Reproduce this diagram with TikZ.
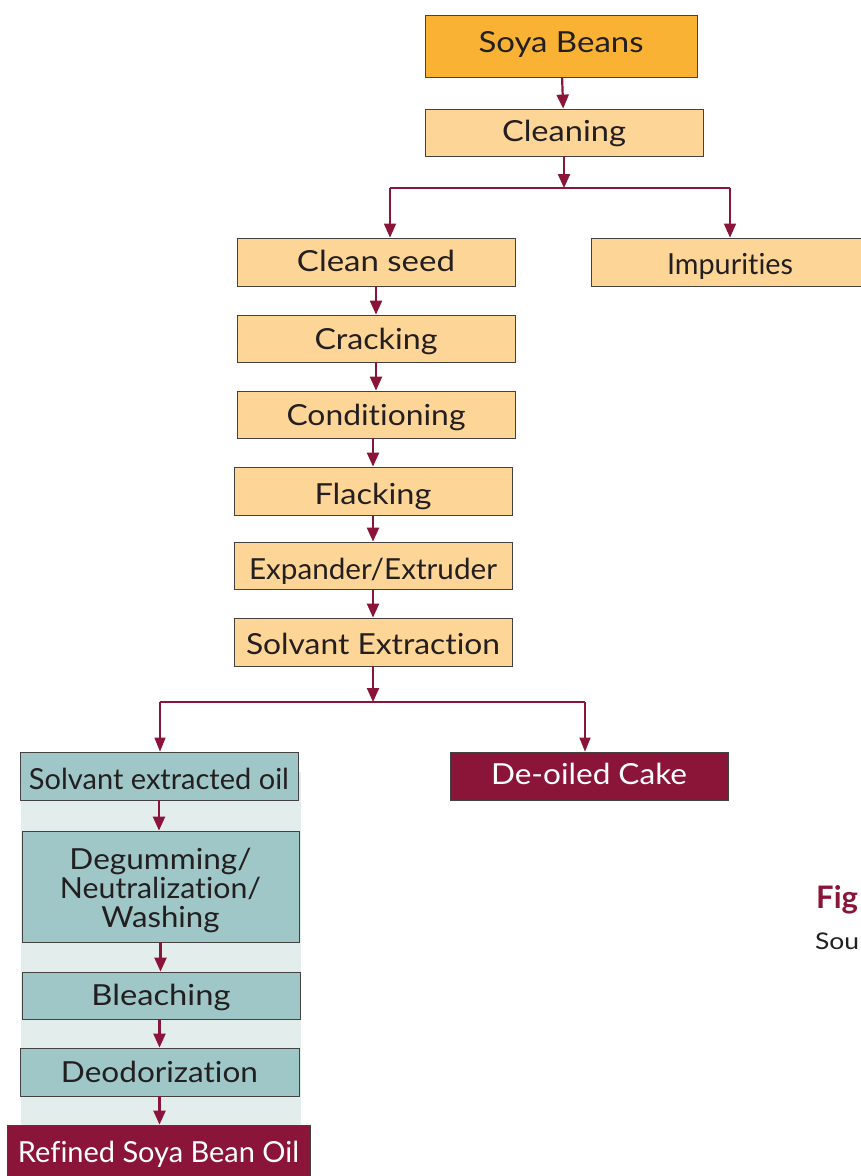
\documentclass[tikz,border=0pt]{standalone}
\usepackage{fontspec}
\setmainfont{Lato}[Ligatures={NoCommon}]
\usetikzlibrary{arrows.meta}
\definecolor{maroon}{HTML}{8B1538}
\definecolor{orangebox}{HTML}{F9B233}
\definecolor{peach}{HTML}{FDD597}
\definecolor{tealbox}{HTML}{9FC7C7}
\definecolor{panelbg}{HTML}{E3EDEC}
\definecolor{ink}{HTML}{231F20}
% set a label to a given width, keeping its height
\newcommand{\fitw}[2]{\resizebox{#1}{\height}{#2}}
\tikzset{
  % capoff: how far the middle of the capitals sits below the box centre
  capoff/.code={\pgfmathsetmacro\capdepth{9.2-2*#1}%
    \edef\capnext{\noexpand\tikzset{text height=30pt, text depth=\capdepth pt}}\capnext},
  box/.style={draw=ink!85, line width=0.8pt, minimum width=278pt, minimum height=47pt,
    inner sep=0pt, text=ink, capoff=0, font=\fontsize{29}{29}\selectfont},
  seedbox/.style={box, fill=peach},
  oilbox/.style={box, fill=tealbox},
  outbox/.style={box, fill=maroon, text=white},
  arr/.style={draw=maroon, line width=2.2pt, -{Triangle[length=14pt,width=12pt]}},
  thinarr/.style={draw=maroon, line width=1.4pt, -{Triangle[length=14pt,width=11pt]}},
  link/.style={draw=maroon, line width=1.5pt},
}
\begin{document}
\begin{tikzpicture}[x=1pt,y=-1pt]
\fill[white] (0,0) rectangle (861,1176);
\useasboundingbox (0,0) rectangle (861,1176);

% light panel behind the refining column
\fill[panelbg] (21,772) rectangle (301,1125);

% preparation line
\node[box, fill=orangebox, minimum width=272pt, minimum height=62pt, capoff=-3.5]
      (soya) at (561,46) {\fitw{165pt}{Soya Beans}};
\node[seedbox, capoff=-1] (clean) at (564,132.5) {\fitw{124pt}{Cleaning}};
\node[seedbox, minimum height=48pt, capoff=-0.5] (cseed) at (376,262) {\fitw{158pt}{Clean seed}};
\node[seedbox, minimum height=48pt, capoff=2] (impur) at (730,262) {\fitw{126pt}{Impurities}};
\node[seedbox, capoff=0.5] (crack) at (376,338.5) {\fitw{123pt}{Cracking}};
\node[seedbox, capoff=0.5] (cond) at (376,414.5) {\fitw{179pt}{Conditioning}};
\node[seedbox, minimum height=48pt, capoff=3] (flack) at (373,491) {\fitw{117pt}{Flacking}};
\node[seedbox, capoff=4] (expand) at (373,565.5) {\fitw{248pt}{Expander/Extruder}};
\node[seedbox, minimum height=48pt, capoff=2.5] (solvext) at (373,642) {\fitw{254pt}{Solvant Extraction}};

% products
\node[oilbox, minimum height=48pt, capoff=3] (soil) at (159,776) {\fitw{260pt}{Solvant extracted oil}};
\node[outbox, minimum height=48pt, capoff=-1.5] (cake) at (589,776) {\fitw{196pt}{De-oiled Cake}};

% refining column (three-line label, baseline on the last line)
\node[oilbox, minimum width=277pt, minimum height=111pt, align=center,
      text height=84pt, text depth=3pt] (degum) at (160.5,886.5)
      {\fitw{182pt}{Degumming/}\\\fitw{201pt}{Neutralization/}\\\fitw{118pt}{Washing}};
\node[oilbox] (bleach) at (161,995.5) {\fitw{139pt}{Bleaching}};
\node[oilbox, minimum width=279pt, minimum height=48pt] (deodor) at (159.5,1072) {\fitw{197pt}{Deodorization}};
\node[outbox, minimum width=303pt, minimum height=53pt, capoff=1] (refined) at (158.5,1151.5)
      {\fitw{281pt}{Refined Soya Bean Oil}};

% caption fragments at the right edge
\node[anchor=base west, inner sep=0pt, text=maroon,
      font=\fontsize{31}{31}\selectfont\bfseries] (fig) at (816,908) {Fig};
\node[anchor=base west, inner sep=0pt, text=ink,
      font=\fontsize{23}{24}\selectfont] (src) at (815,949) {\scalebox{1.15}[1]{Sou}};

% junction points
\coordinate (sL) at (390,188);
\coordinate (sR) at (730,188);
\coordinate (tL) at (160,702);
\coordinate (tR) at (585,702);

% connectors
\draw[arr] (soya) -- (clean);
\draw[arr] (clean.south) -- (clean.south |- sL);
\draw[link] (sL) -- (sR);
\draw[link, -{Triangle[length=14pt,width=12pt]}] (sL) -- (sL |- cseed.north);
\draw[link, -{Triangle[length=14pt,width=12pt]}] (sR) -- (sR |- impur.north);
\draw[arr] (cseed.south) -- (cseed.south |- crack.north);
\draw[arr] (crack.south) -- (crack.south |- cond.north);
\draw[arr] (cond.south -| flack.south) -- (flack.north);
\draw[arr] (flack.south) -- (expand.north);
\draw[arr] (expand.south) -- (solvext.north);
\draw[arr] (solvext.south) -- (solvext.south |- tL);
\draw[link, line width=1.2pt] (tL) -- (tR);
\draw[thinarr] (tL) -- (tL |- soil.north);
\draw[thinarr] (tR) -- (tR |- cake.north);
\draw[arr] (soil.south) -- (soil.south |- degum.north);
\draw[arr] (degum.south) -- (degum.south |- bleach.north);
\draw[arr] (bleach.south -| deodor.south) -- (deodor.north);
\draw[arr] (deodor.south) -- (deodor.south |- refined.north);
\end{tikzpicture}
\end{document}
